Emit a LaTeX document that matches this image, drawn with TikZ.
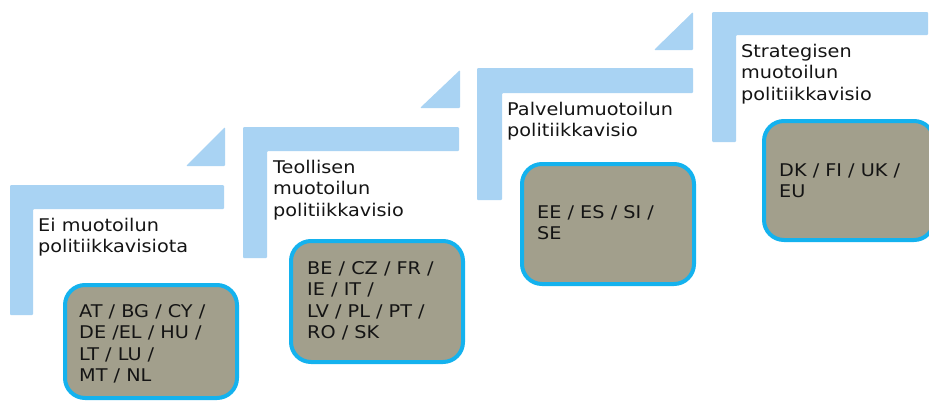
\documentclass[tikz,border=0pt]{standalone}
\usepackage{fontspec}
\setmainfont{DejaVu Sans}[FakeStretch=1.1]
\definecolor{barblue}{HTML}{A9D3F3}
\definecolor{boxfill}{HTML}{A29F8C}
\definecolor{boxline}{HTML}{14B2EE}
\tikzset{
  bar/.style={fill=barblue, draw=none, rounded corners=1pt},
  txt/.style={anchor=base west, align=left, inner sep=0pt, font=\fontsize{17.5}{21.6}\selectfont, text=black!92},
  cbox/.style={draw=boxline, line width=4pt, fill=boxfill, rounded corners=20pt, inner sep=0pt, anchor=north west},
}
\begin{document}
\begin{tikzpicture}[x=1pt,y=-1pt]
\useasboundingbox (0,0) rectangle (929,400);
% stage 1
\fill[bar] (10,185) -- (224,185) -- (224,209) -- (33,209) -- (33,315) -- (10,315) -- cycle;
\fill[bar] (186,166) -- (225,166) -- (225,127) -- cycle;
\node[txt] (t1) at (38,252.6) {Ei muotoilun\\politiikkavisiota};
\node[cbox, minimum width=172pt, minimum height=113pt] (b1) at (63,283) {};
\node[txt] (c1) at (79,381.8) {AT / BG / CY /\\DE /EL / HU /\\LT / LU /\\MT / NL};
% stage 2
\fill[bar] (243,127) -- (459,127) -- (459,151) -- (267,151) -- (267,258) -- (243,258) -- cycle;
\fill[bar] (420,108) -- (460,108) -- (460,70) -- cycle;
\node[txt] (t2) at (273,216.2) {Teollisen\\muotoilun\\politiikkavisio};
\node[cbox, minimum width=172pt, minimum height=121pt] (b2) at (289,239) {};
\node[txt] (c2) at (307,338.8) {BE / CZ / FR /\\IE / IT /\\LV / PL / PT /\\RO / SK};
% stage 3
\fill[bar] (477,68) -- (693,68) -- (693,93) -- (502,93) -- (502,200) -- (477,200) -- cycle;
\fill[bar] (654,50) -- (693,50) -- (693,12) -- cycle;
\node[txt] (t3) at (507,136.6) {Palvelumuotoilun\\politiikkavisio};
\node[cbox, minimum width=172pt, minimum height=120pt] (b3) at (520,162) {};
\node[txt] (c3) at (537,239.6) {EE / ES / SI /\\SE};
% stage 4
\fill[bar] (712,12) -- (928,12) -- (928,35) -- (736,35) -- (736,142) -- (712,142) -- cycle;
\node[txt] (t4) at (741,100.2) {Strategisen\\muotoilun\\politiikkavisio};
\node[cbox, minimum width=170pt, minimum height=119pt] (b4) at (762,119) {};
\node[txt] (c4) at (779,197.6) {DK / FI / UK /\\EU};
\end{tikzpicture}
\end{document}
